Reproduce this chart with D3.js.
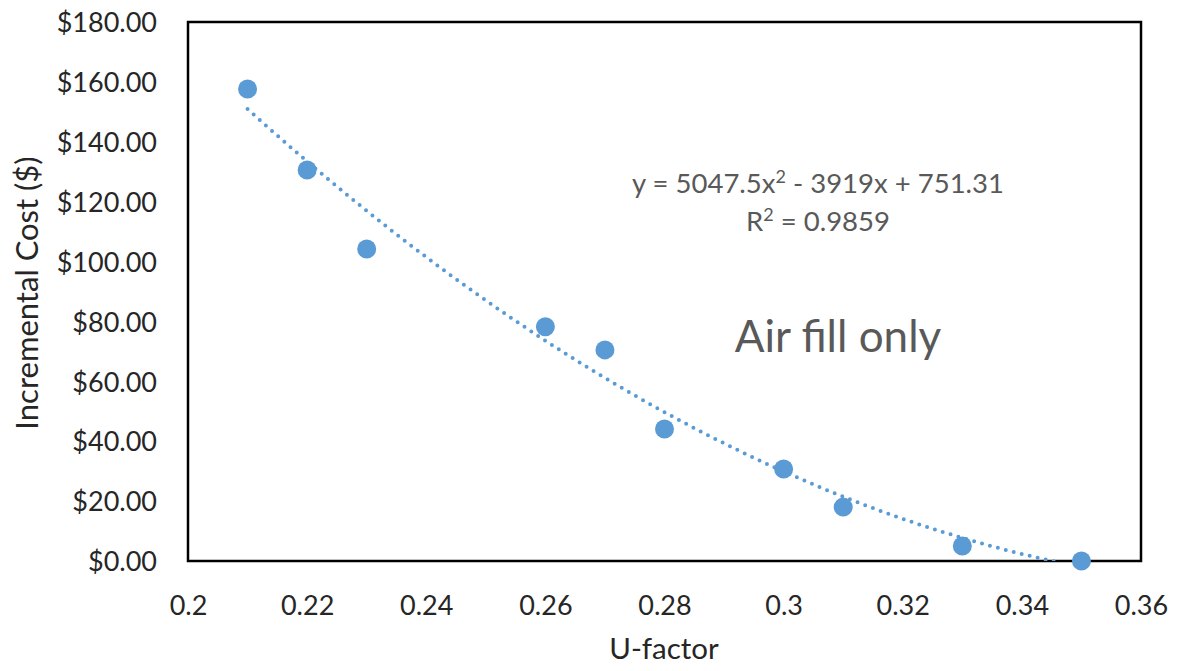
<!DOCTYPE html>
<html>
<head>
<meta charset="utf-8">
<script src="https://cdn.jsdelivr.net/npm/d3@7"></script>
<style>
  html, body { margin: 0; padding: 0; background: #fff; }
  svg { display: block; }
  text { font-family: Lato, "Open Sans", sans-serif; }
</style>
</head>
<body>
<svg id="chart" width="1180" height="671"></svg>
<script>
// U-factor vs incremental cost, air fill only
const uFactor = [0.21, 0.22, 0.23, 0.26, 0.27, 0.28, 0.30, 0.31, 0.33, 0.35];
const incrementalCost = [157.6, 130.6, 104.2, 78.2, 70.5, 44.1, 30.7, 18.0, 5.0, 0.0];

// polynomial trendline (order 2) coefficients
const trendCoef = [5047.5, -3919, 751.31];
const trendR2 = 0.9859;

const xTicks = [0.2, 0.22, 0.24, 0.26, 0.28, 0.3, 0.32, 0.34, 0.36];
const yTicks = [0, 20, 40, 60, 80, 100, 120, 140, 160, 180];

const svg = d3.select("#chart");
const plot = { left: 188, right: 1141, top: 22, bottom: 561 };

const x = d3.scaleLinear().domain([0.2, 0.36]).range([plot.left, plot.right]);
const y = d3.scaleLinear().domain([0, 180]).range([plot.bottom, plot.top]);

const blue = "#5B9BD5";
const textColor = "#262626";

svg.append("defs").append("clipPath").attr("id", "plotClip")
  .append("rect")
  .attr("x", plot.left).attr("y", plot.top)
  .attr("width", plot.right - plot.left).attr("height", plot.bottom - plot.top);

// axes (labels only, no tick marks)
const xAxis = d3.axisBottom(x).tickValues(xTicks).tickSize(0).tickPadding(0)
  .tickFormat(d => String(+d.toFixed(2)));
const gx = svg.append("g").attr("transform", `translate(0,${plot.bottom})`).call(xAxis);
gx.select(".domain").remove();
gx.selectAll("text")
  .attr("y", 54).attr("dy", null)
  .attr("font-size", 27).attr("fill", textColor)
  .style("font-family", "Lato, 'Open Sans', sans-serif");

const yAxis = d3.axisLeft(y).tickValues(yTicks).tickSize(0).tickPadding(0)
  .tickFormat(d => "$" + d3.format(".2f")(d));
const gy = svg.append("g").attr("transform", `translate(${plot.left},0)`).call(yAxis);
gy.select(".domain").remove();
gy.selectAll("text")
  .attr("x", -31).attr("dy", "0.36em")
  .attr("font-size", 27).attr("fill", textColor)
  .style("font-family", "Lato, 'Open Sans', sans-serif");

// plot frame
svg.append("rect")
  .attr("x", plot.left).attr("y", plot.top)
  .attr("width", plot.right - plot.left).attr("height", plot.bottom - plot.top)
  .attr("fill", "none").attr("stroke", "#000").attr("stroke-width", 2.5);

// trendline
const poly = u => trendCoef[0] * u * u + trendCoef[1] * u + trendCoef[2];
const trendXs = d3.range(0, 141).map(i => 0.21 + i * 0.001);
const line = d3.line().x(d => x(d)).y(d => y(poly(d)));
svg.append("path")
  .datum(trendXs.filter(u => poly(u) >= -0.5))
  .attr("clip-path", "url(#plotClip)")
  .attr("d", line)
  .attr("fill", "none")
  .attr("stroke", blue)
  .attr("stroke-width", 4)
  .attr("stroke-linecap", "round")
  .attr("stroke-dasharray", "0 8.2");

// data points
svg.append("g").selectAll("circle")
  .data(uFactor.map((u, i) => ({ u, c: incrementalCost[i] })))
  .join("circle")
  .attr("cx", d => x(d.u))
  .attr("cy", d => y(d.c))
  .attr("r", 9.5)
  .attr("fill", blue);

// trendline equation
const eq = svg.append("text")
  .attr("x", 818).attr("y", 193)
  .attr("text-anchor", "middle")
  .attr("font-size", 27.5).attr("fill", "#595959");
eq.append("tspan").text("y = " + trendCoef[0] + "x");
eq.append("tspan").attr("dy", -10).attr("font-size", 18).text("2");
eq.append("tspan").attr("dy", 10).text(" - " + Math.abs(trendCoef[1]) + "x + " + trendCoef[2]);

const r2 = svg.append("text")
  .attr("x", 818).attr("y", 231)
  .attr("text-anchor", "middle")
  .attr("font-size", 27.5).attr("fill", "#595959");
r2.append("tspan").text("R");
r2.append("tspan").attr("dy", -10).attr("font-size", 18).text("2");
r2.append("tspan").attr("dy", 10).text(" = " + trendR2);

// annotation
svg.append("text")
  .attr("x", 838).attr("y", 352)
  .attr("text-anchor", "middle")
  .attr("font-size", 44).attr("fill", "#595959")
  .text("Air fill only");

// axis titles
svg.append("text")
  .attr("x", 664).attr("y", 659)
  .attr("text-anchor", "middle")
  .attr("font-size", 29.5).attr("fill", textColor)
  .text("U-factor");

svg.append("text")
  .attr("transform", "translate(38,293) rotate(-90)")
  .attr("text-anchor", "middle")
  .attr("font-size", 31).attr("fill", textColor)
  .text("Incremental Cost ($)");
</script>
</body>
</html>
